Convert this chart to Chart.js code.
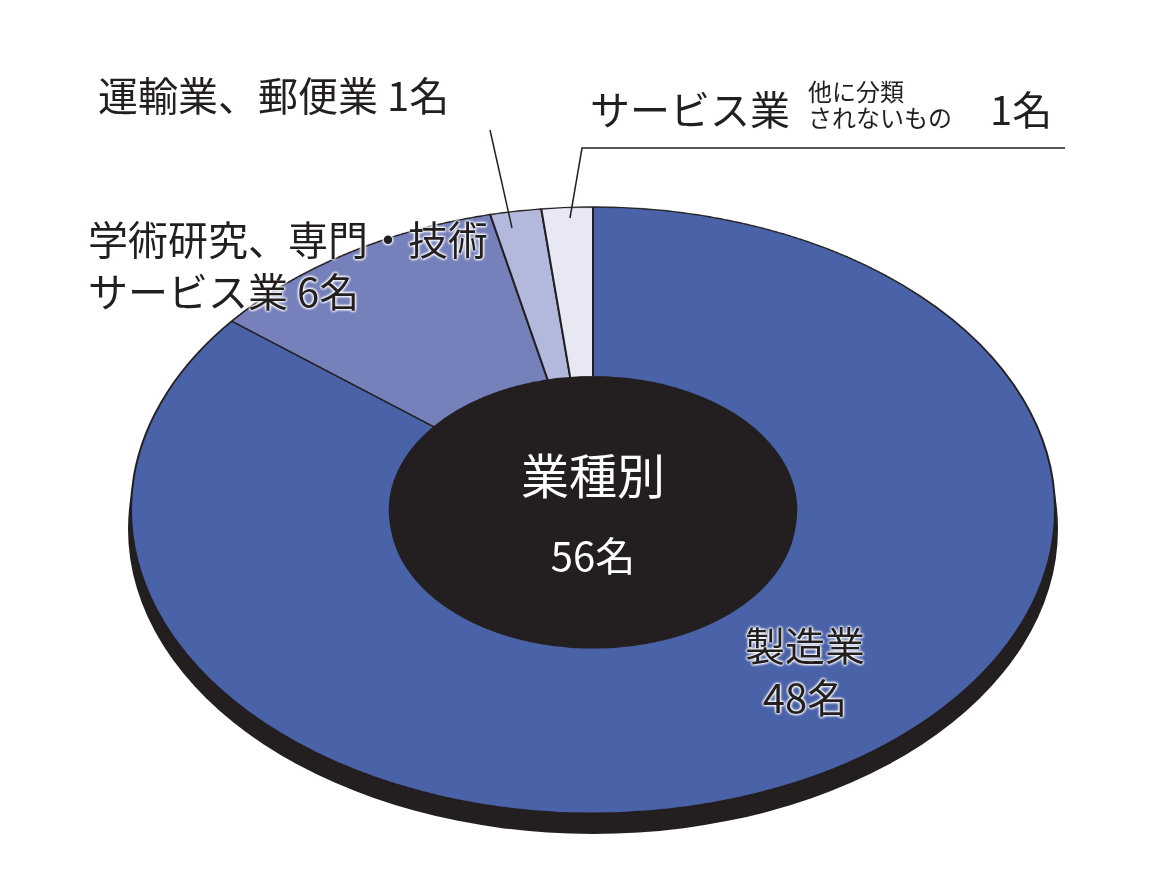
<!DOCTYPE html>
<html><head><meta charset="utf-8">
<script src="https://cdn.jsdelivr.net/npm/chart.js@4"></script>
<style>
body{margin:0;width:1152px;height:886px;background:#fff;position:relative;overflow:hidden;font-family:"Noto Sans CJK JP","Noto Sans",sans-serif;}
#shadow{position:absolute;left:128px;top:224px;width:930px;height:610px;background:#231f20;border-radius:50%;}
#wrap{position:absolute;left:128px;top:205px;width:930px;height:930px;transform:scaleY(0.656);transform-origin:0 0;}
.lbl{position:absolute;color:#231f20;white-space:nowrap;text-shadow:0 0 3px #fff,0 0 3px #fff,0 0 3px #fff,0 0 3px #fff;line-height:1.2;}
svg{position:absolute;left:0;top:0;}
</style></head><body>
<div id="shadow"></div>
<div id="wrap"><canvas id="c" width="930" height="930"></canvas></div>
<svg width="1152" height="886"><polyline points="490,130 512,228" stroke="#231f20" stroke-width="1.5" fill="none"/><polyline points="1065,148 582,148 570,218" stroke="#231f20" stroke-width="1.5" fill="none"/></svg>
<div class="lbl" style="left:98px;top:70px;font-size:40px;">運輸業、郵便業 1名</div>
<div class="lbl" style="left:590px;top:84px;font-size:40px;">サービス業</div>
<div class="lbl" style="left:808px;top:78px;font-size:24px;line-height:1.1;">他に分類<br>されないもの</div>
<div class="lbl" style="left:990px;top:84px;font-size:40px;">1名</div>
<div class="lbl" style="left:88px;top:212px;font-size:40px;line-height:1.3;">学術研究、専門・技術<br>サービス業 6名</div>
<div class="lbl" style="left:745px;top:618px;font-size:40px;line-height:1.3;text-align:center;">製造業<br>48名</div>
<div class="lbl" style="left:393px;top:445px;width:400px;text-align:center;color:#fff;text-shadow:none;font-size:48px;">業種別</div>
<div class="lbl" style="left:393px;top:530px;width:400px;text-align:center;color:#fff;text-shadow:none;font-size:40px;">56名</div>
<script>
const categories=["製造業","学術研究、専門・技術サービス業","運輸業、郵便業","サービス業（他に分類されないもの）"];
const values=[48,6,1,1];
const colors=["#4a62a8","#7680bb","#b3b8dd","#e8e8f4"];
const hole={id:'hole',afterDatasetsDraw(ch){const m=ch.getDatasetMeta(0).data[0];const c=ch.ctx;c.save();c.beginPath();c.arc(m.x,m.y+8,m.innerRadius,0,Math.PI*2);c.fillStyle="#231f20";c.fill();c.restore();}};
new Chart(document.getElementById('c'),{type:'doughnut',data:{labels:categories,datasets:[{data:values,backgroundColor:colors,borderColor:"#231f20",borderWidth:2}]},
options:{responsive:false,animation:false,cutout:'44%',layout:{padding:2},plugins:{legend:{display:false},tooltip:{enabled:false}}},plugins:[hole]});
</script>
</body></html>
